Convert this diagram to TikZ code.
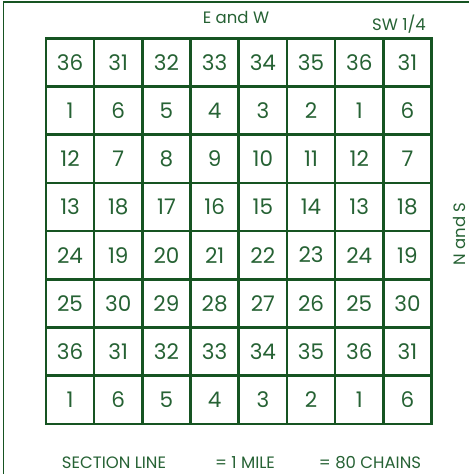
\documentclass[tikz,border=0pt]{standalone}
\usepackage{fontspec}
\setmainfont{Poppins}
\usetikzlibrary{matrix,positioning}
\definecolor{linegreen}{RGB}{22,84,34}
\definecolor{textgreen}{RGB}{38,98,52}

\begin{document}
\begin{tikzpicture}[x=1pt, y=-1pt,
    townships/.style={matrix of nodes, nodes={draw=linegreen, line width=2.6pt, minimum width=48.2pt, minimum height=48.2pt, inner sep=0pt, anchor=center, text=textgreen, font=\fontsize{21.5}{21.5}\selectfont}, column sep=-2.6pt, row sep=-2.6pt, inner sep=0pt},
    caption/.style={text=textgreen, font=\fontsize{16.5}{16.5}\selectfont, inner sep=0pt},
    footer/.style={caption, text depth=0pt, anchor=base}
]
\useasboundingbox (0,0) rectangle (470,474);

% outer frame, only its top and left edges show
\coordinate (frameTL) at (3.5,2);
\draw[linegreen, line width=1.6pt] (frameTL) ++(0,480) |- (469,2);

\matrix [townships] (grid) at (238.75,231) {
    36 & 31 & 32 & 33 & 34 & 35 & 36 & 31 \\
     1 &  6 &  5 &  4 &  3 &  2 &  1 &  6 \\
    12 &  7 &  8 &  9 & 10 & 11 & 12 &  7 \\
    13 & 18 & 17 & 16 & 15 & 14 & 13 & 18 \\
    24 & 19 & 20 & 21 & 22 & 23 & 24 & 19 \\
    25 & 30 & 29 & 28 & 27 & 26 & 25 & 30 \\
    36 & 31 & 32 & 33 & 34 & 35 & 36 & 31 \\
     1 &  6 &  5 &  4 &  3 &  2 &  1 &  6 \\
};

\node [caption] (ew) at (236,17) {E and W};
\node [caption] (sw) at (399,24) {SW 1/4};
\node [caption, rotate=90] (ns) at (459,234) {N and S};

\node [footer] (secline) at (114,468.5) {SECTION LINE};
\node [footer] (mile) at (245,468.5) {= 1 MILE};
\node [footer] (chains) at (370,468.5) {= 80 CHAINS};

\end{tikzpicture}
\end{document}
